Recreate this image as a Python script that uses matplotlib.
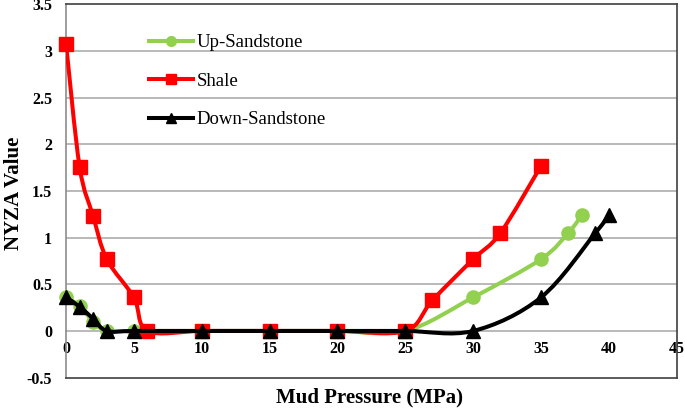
import numpy as np
import matplotlib
matplotlib.use("Agg")
import matplotlib.pyplot as plt
from matplotlib.path import Path
from matplotlib.patches import PathPatch

# ---- data ----
up_x = [0, 1, 2, 3, 5, 10, 15, 20, 25, 30, 35, 37, 38]
up_y = [0.36, 0.27, 0.10, 0.0, 0.0, 0.0, 0.0, 0.0, 0.0, 0.36, 0.77, 1.05, 1.24]

sh_x = [0, 1, 2, 3, 5, 6, 10, 15, 20, 25, 27, 30, 32, 35]
sh_y = [3.08, 1.76, 1.23, 0.77, 0.36, 0.0, 0.0, 0.0, 0.0, 0.0, 0.33, 0.77, 1.05, 1.77]

dn_x = [0, 1, 2, 3, 5, 10, 15, 20, 25, 30, 35, 39, 40]
dn_y = [0.36, 0.26, 0.13, 0.0, 0.0, 0.0, 0.0, 0.0, 0.0, 0.0, 0.36, 1.05, 1.24]

x_ticks = [0, 5, 10, 15, 20, 25, 30, 35, 40, 45]
y_ticks = [-0.5, 0, 0.5, 1, 1.5, 2, 2.5, 3, 3.5]

GREEN = "#92D050"
RED = "#FF0000"
BLACK = "#000000"

plt.rcParams['font.family'] = ['Liberation Serif', 'DejaVu Serif']

fig = plt.figure(figsize=(6.85, 4.09), dpi=100)
ax = fig.add_axes([0.0964, 0.0768, 0.8916, 0.9122])


def smooth_path(xs, ys):
    pts = np.column_stack([xs, ys]).astype(float)
    n = len(pts)
    verts = [pts[0]]
    codes = [Path.MOVETO]
    for i in range(n - 1):
        p0 = pts[i - 1] if i > 0 else pts[i]
        p1 = pts[i]
        p2 = pts[i + 1]
        p3 = pts[i + 2] if i + 2 < n else pts[i + 1]
        c1 = p1 + (p2 - p0) / 6.0
        c2 = p2 - (p3 - p1) / 6.0
        verts += [c1, c2, p2]
        codes += [Path.CURVE4] * 3
    return Path(verts, codes)


series = [
    (up_x, up_y, GREEN, 'o', 'Up-Sandstone', 9.5),
    (sh_x, sh_y, RED, 's', 'Shale', 9.5),
    (dn_x, dn_y, BLACK, '^', 'Down-Sandstone', 10),
]

handles = []
for k, (xs, ys, c, m, lab, ms) in enumerate(series):
    z = 3 + k
    patch = PathPatch(smooth_path(xs, ys), facecolor='none', edgecolor=c,
                      lw=2.9, zorder=z, capstyle='round', joinstyle='round')
    ax.add_patch(patch)
    ax.plot(xs, ys, linestyle='none', marker=m, color=c, markersize=ms,
            zorder=z, clip_on=False)
    h, = ax.plot([], [], color=c, lw=2.9, marker=m, markersize=7, label=lab)
    handles.append(h)

ax.set_xlim(0, 45)
ax.set_ylim(-0.5, 3.5)

ax.set_yticks(y_ticks)
ax.set_yticklabels(['-0.5', '0', '0.5', '1', '1.5', '2', '2.5', '3', '3.5'],
                   fontsize=11.5, fontweight='bold')
ax.tick_params(axis='y', length=0, pad=10)
ax.set_xticks([])

for y in [0.5, 1, 1.5, 2, 2.5, 3]:
    ax.axhline(y, color='#A6A6A6', lw=1.1, zorder=1)

for s in ax.spines.values():
    s.set_color('#404040')
    s.set_linewidth(1.2)
ax.spines['left'].set_color('#8C8C8C')

sec = ax.secondary_xaxis(0.125)
sec.set_xticks(x_ticks)
sec.set_xticklabels([str(v) for v in x_ticks], fontsize=11.5,
                    fontweight='bold')
sec.tick_params(axis='x', length=0, pad=7)
sec.spines['bottom'].set_color('#A6A6A6')
sec.spines['bottom'].set_linewidth(1.1)

fig.text(0.539, 0.027, 'Mud Pressure (MPa)', ha='center', va='center',
         fontsize=15, fontweight='bold')
fig.text(0.021, 0.527, 'NYZA Value', ha='center', va='center',
         rotation=90, fontsize=15, fontweight='bold')

ax.legend(handles=handles, loc='upper left', bbox_to_anchor=(0.136, 0.921),
          frameon=False, fontsize=13.5, handlelength=2.35, handletextpad=0.2,
          labelspacing=1.15, borderaxespad=0, borderpad=0)

fig.savefig('out.png', dpi=100)
